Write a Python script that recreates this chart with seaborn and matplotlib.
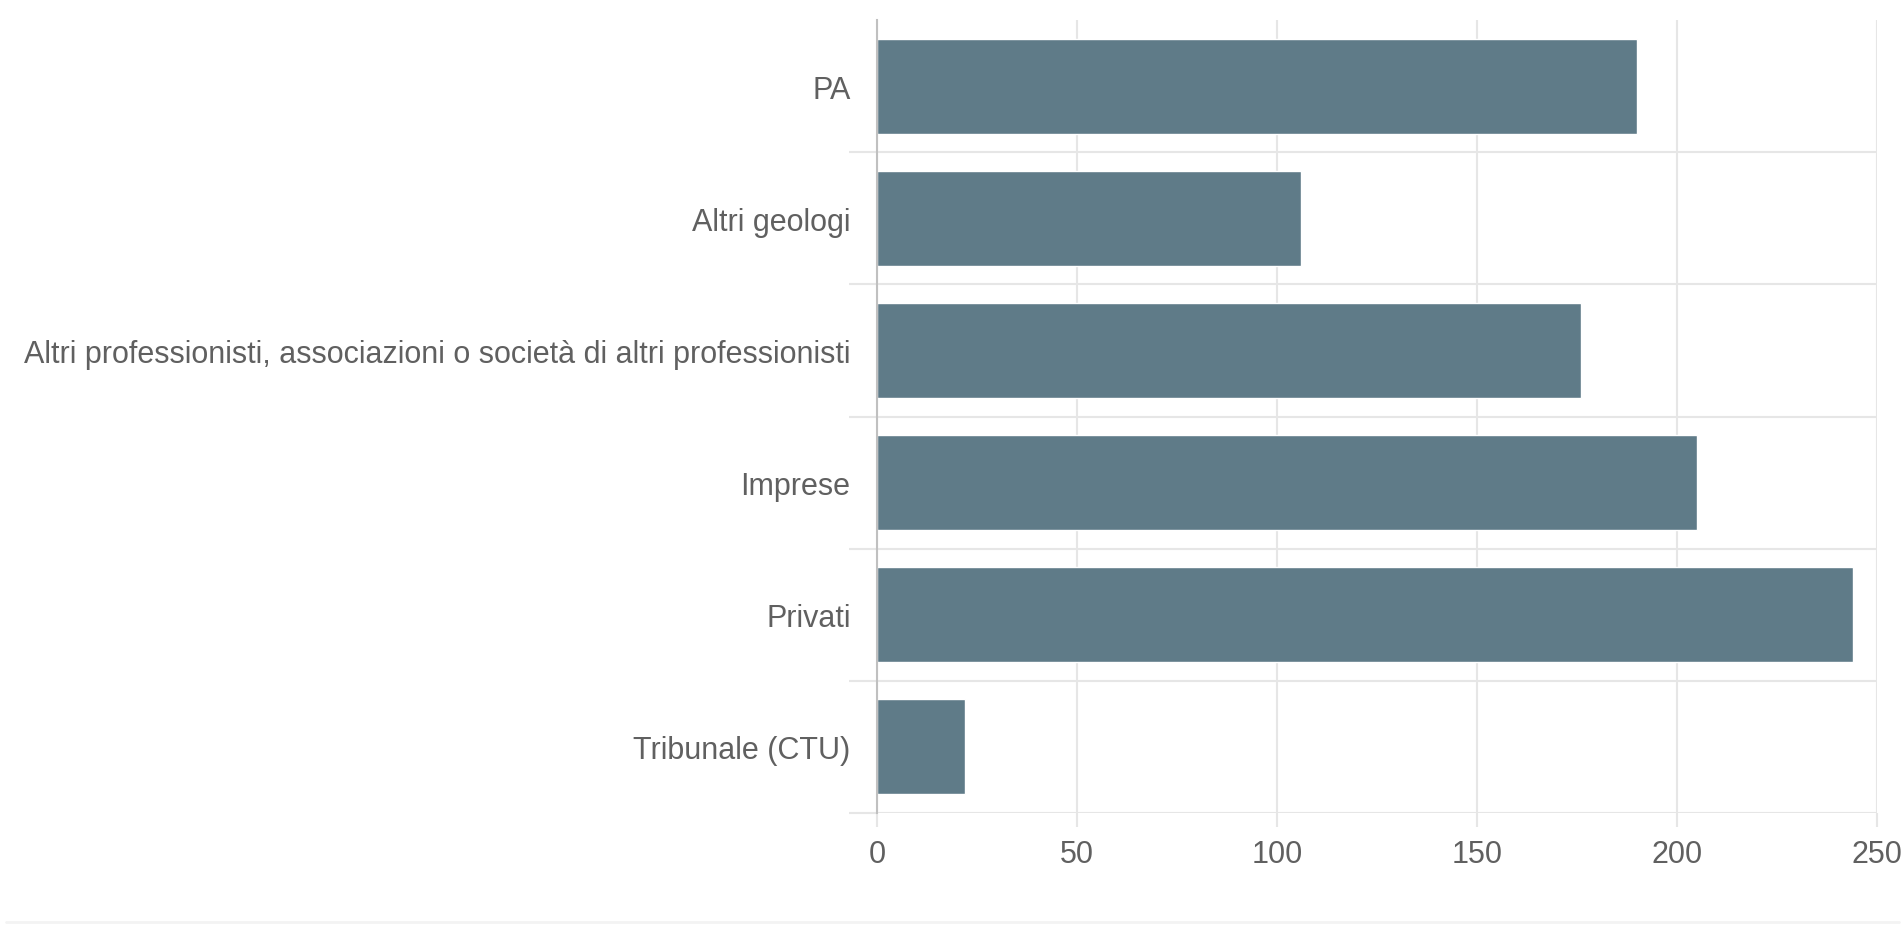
import matplotlib
matplotlib.use("Agg")
import matplotlib.pyplot as plt
from matplotlib.lines import Line2D
import seaborn as sns
import pandas as pd
import numpy as np

categories = [
    "PA",
    "Altri geologi",
    "Altri professionisti, associazioni o società di altri professionisti",
    "Imprese",
    "Privati",
    "Tribunale (CTU)",
]
values = [190, 106, 176, 205, 244, 22]
x_ticks = [0, 50, 100, 150, 200, 250]

df = pd.DataFrame({"categoria": categories, "valore": values})

sns.set_theme(style="white")
plt.rcParams["font.family"] = ["Liberation Sans", "DejaVu Sans"]

fig = plt.figure(figsize=(19.03, 9.28), dpi=100)
ax = fig.add_axes([877 / 1903, 1 - 814 / 928, 1000 / 1903, (814 - 21) / 928])

sns.barplot(data=df, y="categoria", x="valore", orient="h", color="#5f7b88",
            saturation=1, width=0.72, ax=ax)

grid_c = "#e6e6e6"
text_c = "#606060"

ax.set_xlim(0, 250)
ax.set_ylim(len(categories) - 0.5, -0.5)
ax.set_xticks(x_ticks)
ax.set_xticklabels([str(t) for t in x_ticks])
ax.set_yticks(np.arange(len(categories)), minor=False)
ax.set_yticks(np.arange(1, len(categories) + 1) - 0.5, minor=True)

ax.grid(True, axis="x", which="major", color=grid_c, linewidth=1.5)
ax.grid(True, axis="y", which="minor", color=grid_c, linewidth=1.5)
ax.set_axisbelow(True)

ax.set_xlabel("")
ax.set_ylabel("")
for s in ["top", "right", "bottom"]:
    ax.spines[s].set_visible(False)
ax.spines["left"].set_color("#c0c0c0")
ax.spines["left"].set_linewidth(1.5)

ax.tick_params(axis="y", which="major", length=0, pad=19, labelsize=22, labelcolor=text_c)
ax.tick_params(axis="y", which="minor", length=20, width=1.5, color=grid_c, left=True)
ax.tick_params(axis="x", which="major", length=10, width=1.5, color=grid_c, pad=9,
               labelsize=22, labelcolor=text_c, bottom=True)

# faint frame line at the bottom of the figure
fig.add_artist(Line2D([0.003, 0.998], [1 - 923 / 928] * 2, transform=fig.transFigure,
                      color="#f3f3f3", linewidth=2))

fig.savefig("out.png", dpi=100, facecolor="white")
